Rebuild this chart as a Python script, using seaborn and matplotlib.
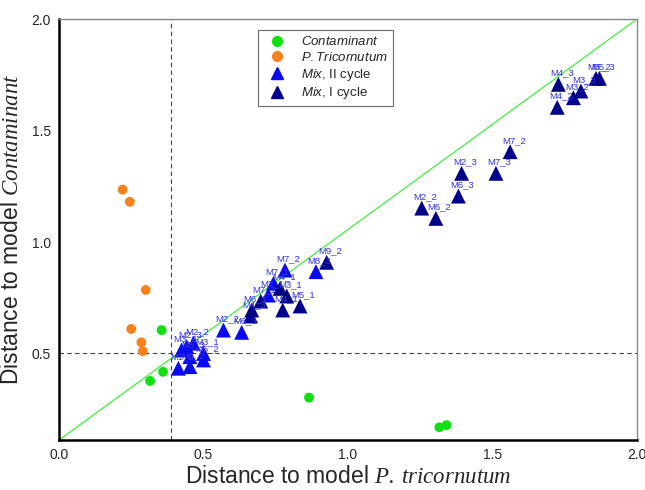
import matplotlib
matplotlib.use("Agg")
import matplotlib.pyplot as plt
from matplotlib.lines import Line2D
import seaborn as sns
import pandas as pd

# Contaminant reference samples
cont_x = [0.355, 0.360, 0.315, 0.865, 1.316, 1.341]
cont_y = [0.605, 0.418, 0.377, 0.302, 0.169, 0.179]

# P. tricornutum reference samples
pt_x = [0.220, 0.245, 0.300, 0.250, 0.285, 0.290]
pt_y = [1.235, 1.180, 0.785, 0.610, 0.550, 0.510]

# Mixtures, second cycle
mix2_x = [0.889, 0.782, 0.742, 0.724, 0.632, 0.569, 0.465, 0.442, 0.500, 0.500, 0.453, 0.424, 0.453, 0.413]
mix2_y = [0.867, 0.874, 0.815, 0.762, 0.595, 0.605, 0.546, 0.531, 0.500, 0.471, 0.441, 0.516, 0.486, 0.434]
mix2_lab = ["M8_3", "M7_2", "M7_1", "M2_1", "M6_3", "M2_2", "M2_2", "M2_3", "M3_1", "M5_2", "M4_2", "M3_2", "M5_3", "M1_2"]

# Mixtures, first cycle
mix1_x = [1.728, 1.724, 1.780, 1.806, 1.858, 1.870, 1.561, 1.393, 1.512, 1.382, 1.255, 1.304,
          0.926, 0.834, 0.774, 0.788, 0.765, 0.698, 0.667, 0.663]
mix1_y = [1.707, 1.604, 1.647, 1.677, 1.734, 1.734, 1.405, 1.308, 1.308, 1.206, 1.152, 1.106,
          0.909, 0.713, 0.695, 0.758, 0.792, 0.735, 0.695, 0.668]
mix1_lab = ["M4_3", "M4_2", "M3_2", "M3_3", "M5_2", "M5_3", "M7_2", "M2_3", "M7_3", "M6_3", "M2_2", "M6_2",
            "M9_2", "M5_1", "M4_1", "M3_1", "M4_1", "M7_1", "M6_1", "M4_3"]

df_ref = pd.DataFrame({
    "x": cont_x + pt_x,
    "y": cont_y + pt_y,
    "group": ["Contaminant"] * len(cont_x) + ["P.Tricornutum"] * len(pt_x),
})
df_mix = pd.DataFrame({
    "x": mix2_x + mix1_x,
    "y": mix2_y + mix1_y,
    "label": mix2_lab + mix1_lab,
    "group": ["Mix2"] * len(mix2_x) + ["Mix1"] * len(mix1_x),
})

colors = {"Contaminant": "#10e010", "P.Tricornutum": "#f5821f", "Mix2": "#0a0aee", "Mix1": "#00008b"}

sns.set_theme(style="white")
plt.rcParams["font.family"] = ["Liberation Sans", "DejaVu Sans"]
plt.rcParams["mathtext.fontset"] = "custom"
plt.rcParams["mathtext.it"] = "Liberation Sans:italic"
plt.rcParams["mathtext.sf"] = "Liberation Serif:italic"
plt.rcParams["mathtext.rm"] = "Liberation Sans"

fig, ax = plt.subplots(figsize=(6.45, 4.90), dpi=100)
fig.subplots_adjust(left=0.0915, right=0.9876, top=0.9612, bottom=0.102)

ax.set_xlim(0, 2.0)
ax.set_ylim(0.112, 2.0)

# corner-to-corner reference line and critical distances
ax.plot([0, 1], [0, 1], transform=ax.transAxes, color="#44ee44", lw=0.9, zorder=1)
ax.axvline(0.389, color="#444444", lw=0.8, ls=(0, (4, 3)), zorder=1)
ax.axhline(0.5, color="#444444", lw=0.8, ls=(0, (4, 3)), zorder=1)

sns.scatterplot(data=df_ref, x="x", y="y", hue="group", palette=colors, s=50,
                edgecolor="none", legend=False, ax=ax, zorder=3)
sns.scatterplot(data=df_mix, x="x", y="y", hue="group", palette=colors, marker="^", s=115,
                edgecolor="none", legend=False, ax=ax, zorder=3)

for _, r in df_mix.iterrows():
    ax.annotate(r["label"], (r["x"], r["y"]), xytext=(-6, 5), textcoords="offset points",
                fontsize=6.8, color="#3434dc", ha="left", va="bottom", zorder=4)

ax.set_xticks([0, 0.5, 1.0, 1.5, 2.0])
ax.set_yticks([0.5, 1.0, 1.5, 2.0])
ax.set_xticklabels(["0.0", "0.5", "1.0", "1.5", "2.0"], fontsize=10)
ax.set_yticklabels(["0.5", "1.0", "1.5", "2.0"], fontsize=10)
ax.tick_params(axis="both", direction="out", length=3, width=0.8, color="#555555", pad=3)

ax.set_xlabel(r"Distance to model $\mathsf{P.\,tricornutum}$", fontsize=16.5, labelpad=2)
ax.set_ylabel(r"Distance to model $\mathsf{Contaminant}$", fontsize=16.5, labelpad=6)

for side in ["left", "bottom"]:
    ax.spines[side].set_color("black")
    ax.spines[side].set_linewidth(1.8)
for side in ["top", "right"]:
    ax.spines[side].set_color("#888888")
    ax.spines[side].set_linewidth(1.0)

handles = [
    Line2D([], [], ls="none", marker="o", ms=7, color=colors["Contaminant"]),
    Line2D([], [], ls="none", marker="o", ms=7, color=colors["P.Tricornutum"]),
    Line2D([], [], ls="none", marker="^", ms=8, color=colors["Mix2"]),
    Line2D([], [], ls="none", marker="^", ms=8, color=colors["Mix1"]),
]
labels = [r"$\mathit{Contaminant}$", r"$\mathit{P.Tricornutum}$",
          r"$\mathit{Mix}$, II cycle", r"$\mathit{Mix}$, I cycle"]
leg = ax.legend(handles, labels, loc="upper left", bbox_to_anchor=(0.345, 0.974), fontsize=9.5,
                frameon=True, fancybox=False, edgecolor="#444444", borderpad=0.4,
                labelspacing=0.2, handletextpad=0.8, borderaxespad=0)
leg.get_frame().set_linewidth(0.8)

fig.savefig("out.png", dpi=100)
